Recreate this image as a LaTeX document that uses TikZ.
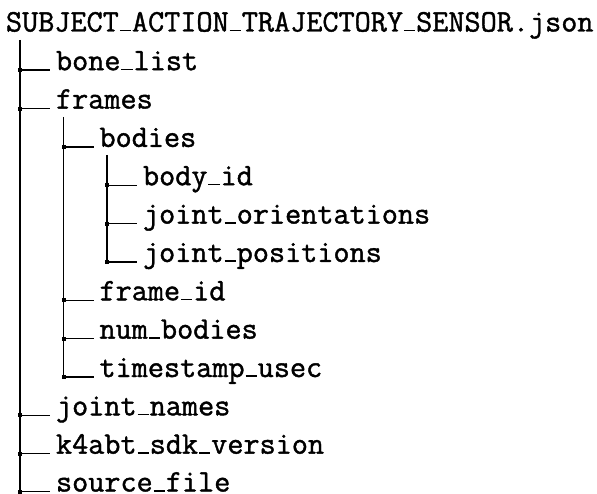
\documentclass[tikz,border=0pt]{standalone}
\usepackage{fontspec}
\newfontfamily\dirtt{Latin Modern Mono}[FakeBold=1.3]
\newcommand\us{\kern0.03em\rule{0.36em}{0.05em}\kern0.03em}
\tikzset{
  lbl/.style={anchor=base west,inner sep=0pt,outer sep=0pt,font=\fontsize{31.3}{37}\selectfont\dirtt},
  trunk/.style={line width=1.4pt,black},
  knot/.style={fill=black},
}
\begin{document}
\begin{tikzpicture}[x=1pt,y=-1pt]
\useasboundingbox (0,0) rectangle (597,494);
\node[lbl] (root) at (6,31.5) {SUBJECT\us ACTION\us TRAJECTORY\us SENSOR.json};
\node[lbl] (bone) at (56,70.2) {bone\us list};
\node[lbl] (frames) at (56,108.55) {frames};
\node[lbl] (bodies) at (99.5,146.9) {bodies};
\node[lbl] (bodyid) at (143,185.25) {body\us id};
\node[lbl] (jor) at (143,223.6) {joint\us orientations};
\node[lbl] (jpos) at (143,261.95) {joint\us positions};
\node[lbl] (frameid) at (99.5,300.3) {frame\us id};
\node[lbl] (numb) at (99.5,338.65) {num\us bodies};
\node[lbl] (ts) at (99.5,377) {timestamp\us usec};
\node[lbl] (jn) at (56,415.35) {joint\us names};
\node[lbl] (k4) at (56,453.7) {k4abt\us sdk\us version};
\node[lbl] (sf) at (56,491.5) {source\us file};
% trunk tops
\coordinate (t1) at (20,40);
\coordinate (t2) at (63.5,117);
\coordinate (t3) at (107,155);
% level 1
\draw[trunk] (t1) -- (t1 |- sf.base west);
\foreach \c in {bone,frames,jn,k4,sf}{
  \draw[trunk] (t1 |- \c.base west) -- ([xshift=-6pt]\c.base west);
  \fill[knot] ([shift={(-2,-2)}]t1 |- \c.base west) rectangle ++(4,4);
}
% level 2
\draw[trunk] (t2) -- (t2 |- ts.base west);
\foreach \c in {bodies,frameid,numb,ts}{
  \draw[trunk] (t2 |- \c.base west) -- ([xshift=-6pt]\c.base west);
  \fill[knot] ([shift={(-2,-2)}]t2 |- \c.base west) rectangle ++(4,4);
}
% level 3
\draw[trunk] (t3) -- (t3 |- jpos.base west);
\foreach \c in {bodyid,jor,jpos}{
  \draw[trunk] (t3 |- \c.base west) -- ([xshift=-6pt]\c.base west);
  \fill[knot] ([shift={(-2,-2)}]t3 |- \c.base west) rectangle ++(4,4);
}
\end{tikzpicture}
\end{document}
